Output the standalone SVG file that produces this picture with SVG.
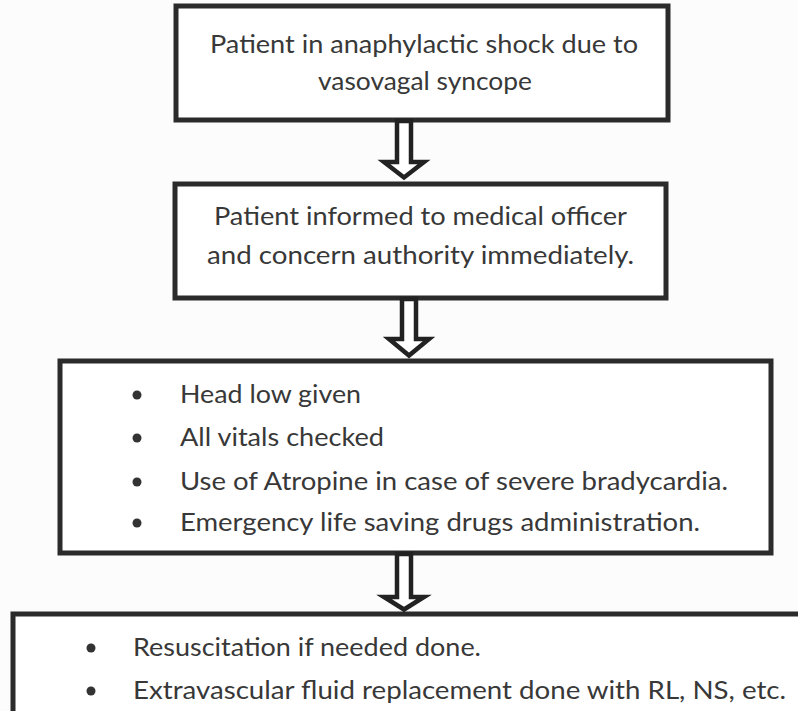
<svg xmlns="http://www.w3.org/2000/svg" width="798" height="711" viewBox="0 0 798 711">
  <style>
    .box { fill: #ffffff; stroke: #2b2b2b; stroke-width: 5; }
    .txt { font-family: Lato, "Open Sans", "Liberation Sans", sans-serif; font-size: 25.5px; fill: #383838; }
    .dot { fill: #333333; }
    .arrow { fill: #ffffff; stroke: #222222; stroke-width: 4.5; stroke-linejoin: miter; stroke-miterlimit: 10; }
  </style>
  <rect width="798" height="711" fill="#fcfcfc"/>

  <g id="node1">
    <rect class="box" x="176" y="6" width="492" height="114"/>
    <text class="txt" x="210" y="53" textLength="428" lengthAdjust="spacingAndGlyphs">Patient in anaphylactic shock due to</text>
    <text class="txt" x="318" y="90" textLength="214" lengthAdjust="spacingAndGlyphs">vasovagal syncope</text>
  </g>

  <g id="node2">
    <rect class="box" x="175" y="184" width="491" height="114"/>
    <text class="txt" x="214" y="225" textLength="413" lengthAdjust="spacingAndGlyphs">Patient informed to medical officer</text>
    <text class="txt" x="207" y="264" textLength="427" lengthAdjust="spacingAndGlyphs">and concern authority immediately.</text>
  </g>

  <g id="node3">
    <rect class="box" x="60" y="361" width="711" height="192"/>
    <circle class="dot" cx="137" cy="395" r="4.5"/>
    <circle class="dot" cx="137" cy="438" r="4.5"/>
    <circle class="dot" cx="137" cy="482" r="4.5"/>
    <circle class="dot" cx="137" cy="523" r="4.5"/>
    <text class="txt" x="180" y="403" textLength="181" lengthAdjust="spacingAndGlyphs">Head low given</text>
    <text class="txt" x="180" y="446" textLength="204" lengthAdjust="spacingAndGlyphs">All vitals checked</text>
    <text class="txt" x="180" y="490" textLength="548" lengthAdjust="spacingAndGlyphs">Use of Atropine in case of severe bradycardia.</text>
    <text class="txt" x="180" y="531" textLength="520" lengthAdjust="spacingAndGlyphs">Emergency life saving drugs administration.</text>
  </g>

  <g id="node4">
    <rect class="box" x="13" y="614" width="800" height="130"/>
    <circle class="dot" cx="91" cy="648" r="4.5"/>
    <circle class="dot" cx="91" cy="691" r="4.5"/>
    <text class="txt" x="133" y="656" textLength="348" lengthAdjust="spacingAndGlyphs">Resuscitation if needed done.</text>
    <text class="txt" x="133" y="699" textLength="653" lengthAdjust="spacingAndGlyphs">Extravascular fluid replacement done with RL, NS, etc.</text>
  </g>

  <g id="connectors">
    <polygon class="arrow" points="397,121 411,121 411,162 424,162 404,177.5 384,162 397,162"/>
    <polygon class="arrow" points="402,299 416,299 416,339 429,339 409,355.5 389,339 402,339"/>
    <polygon class="arrow" points="397,554 411,554 411,597 424,597 404,609.5 384,597 397,597"/>
  </g>
</svg>
